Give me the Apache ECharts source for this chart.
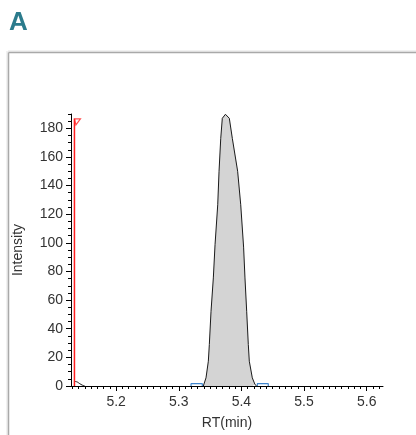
<!DOCTYPE html>
<html>
<head>
<meta charset="utf-8">
<script src="https://cdn.jsdelivr.net/npm/echarts@6/dist/echarts.min.js"></script>
<style>
  html, body { margin: 0; padding: 0; background: #fff; }
  #chart { width: 416px; height: 435px; }
</style>
</head>
<body>
<div id="chart"></div>
<script>
// Extracted ion chromatogram: retention time (min) vs. intensity
const panelLabel = 'A';
const xTitle = 'RT(min)';
const yTitle = 'Intensity';

// Main peak trace
const peakRT = [5.3392, 5.3408, 5.3435, 5.3472, 5.3488, 5.3515, 5.3552, 5.3579, 5.3622, 5.3643, 5.3670, 5.3695, 5.3745, 5.3775, 5.3807, 5.3855, 5.3940, 5.3989, 5.4035, 5.4057, 5.4084, 5.4110, 5.4126, 5.4174, 5.4217, 5.4244];
const peakIntensity = [0, 1, 5.7, 17.3, 29, 52.2, 75.5, 98.7, 126.6, 150, 173, 187, 189.8, 189.4, 187, 173, 150, 126.6, 97, 75.5, 52.2, 29, 17.3, 5.7, 1, 0];

// Trailing edge of the preceding peak
const tailRT = [5.1335, 5.1380, 5.1420, 5.1460, 5.1500];
const tailIntensity = [3.3, 2.8, 1.6, 0.6, 0];

// Integration boundary brackets
const leftBracketRT = [5.3196, 5.3376];
const rightBracketRT = [5.4254, 5.4429];
const bracketHeight = 1.6;

// Retention time marker
const markerRT = 5.1335;
const markerTop = 186.6;

// Axis ranges and tick labels
const xMin = 5.128, xMax = 5.626;
const yMin = 0, yMax = 190;
const xMajorTicks = [5.2, 5.3, 5.4, 5.5, 5.6];
const yMajorTicks = [0, 20, 40, 60, 80, 100, 120, 140, 160, 180];

const xMinorTicks = [];
for (let i = 513; i <= 562; i++) xMinorTicks.push(i / 100);
const yMinorTicks = [];
for (let v = 0; v <= 190; v += 5) yMinorTicks.push(v);

const zip = (a, b) => a.map((x, i) => [x, b[i]]);
const bracket = (r) => [[r[0], 0], [r[0], bracketHeight], [r[1], bracketHeight], [r[1], 0]];

const font = '"Liberation Sans", Arial, sans-serif';
const chart = echarts.init(document.getElementById('chart'), null, { renderer: 'canvas' });

chart.setOption({
  animation: false,
  backgroundColor: '#fff',
  graphic: [
    { type: 'text', left: 9, top: 10, style: { text: panelLabel, font: 'bold 26px ' + font, fill: '#2b7b8c' } },
    { type: 'line', shape: { x1: 8, y1: 51, x2: 416, y2: 51 }, style: { stroke: '#e2e2e2', lineWidth: 1 } },
    { type: 'line', shape: { x1: 7, y1: 51, x2: 7, y2: 435 }, style: { stroke: '#e2e2e2', lineWidth: 1 } },
    { type: 'line', shape: { x1: 8.5, y1: 52.5, x2: 416, y2: 52.5 }, style: { stroke: '#a9a9a9', lineWidth: 1.5 } },
    { type: 'line', shape: { x1: 8.5, y1: 52.5, x2: 8.5, y2: 435 }, style: { stroke: '#a9a9a9', lineWidth: 1.5 } }
  ],
  grid: { left: 71, right: 33, top: 114, bottom: 49, containLabel: false, outerBoundsMode: 'none' },
  xAxis: [
    {
      type: 'value', min: xMin, max: xMax,
      name: xTitle, nameLocation: 'middle', nameGap: 30,
      nameTextStyle: { fontFamily: font, fontSize: 14, color: '#333' },
      axisLine: { show: true, lineStyle: { color: '#000', width: 1 } },
      axisTick: { show: true, length: 5, lineStyle: { color: '#000' }, customValues: xMajorTicks },
      axisLabel: { customValues: xMajorTicks, fontFamily: font, fontSize: 14, color: '#333', margin: 9,
        formatter: v => v.toFixed(1) },
      splitLine: { show: false }
    },
    {
      type: 'value', min: xMin, max: xMax, position: 'bottom',
      axisLine: { show: false },
      axisTick: { show: true, length: 3, lineStyle: { color: '#000' }, customValues: xMinorTicks },
      axisLabel: { show: false },
      splitLine: { show: false }
    }
  ],
  yAxis: [
    {
      type: 'value', min: yMin, max: yMax,
      name: yTitle, nameLocation: 'middle', nameGap: 46, nameRotate: 90,
      nameTextStyle: { fontFamily: font, fontSize: 14, color: '#333' },
      axisLine: { show: true, lineStyle: { color: '#000', width: 1 } },
      axisTick: { show: true, length: 5, lineStyle: { color: '#000' }, customValues: yMajorTicks },
      axisLabel: { customValues: yMajorTicks, fontFamily: font, fontSize: 14, color: '#333', margin: 8 },
      splitLine: { show: false }
    },
    {
      type: 'value', min: yMin, max: yMax, position: 'left',
      axisLine: { show: false },
      axisTick: { show: true, length: 3, lineStyle: { color: '#000' }, customValues: yMinorTicks },
      axisLabel: { show: false },
      splitLine: { show: false }
    }
  ],
  series: [
    {
      type: 'line', data: zip(peakRT, peakIntensity), symbol: 'none', smooth: false,
      lineStyle: { color: '#1a1a1a', width: 1 },
      areaStyle: { color: '#d4d4d4', opacity: 1 }, z: 3
    },
    {
      type: 'line', data: zip(tailRT, tailIntensity), symbol: 'none', smooth: 0.3,
      lineStyle: { color: '#1a1a1a', width: 1 }, z: 3
    },
    {
      type: 'line', data: bracket(leftBracketRT), symbol: 'none',
      lineStyle: { color: '#3f86cf', width: 1.2 }, z: 2
    },
    {
      type: 'line', data: bracket(rightBracketRT), symbol: 'none',
      lineStyle: { color: '#3f86cf', width: 1.2 }, z: 2
    },
    {
      type: 'line', data: [[markerRT, 0], [markerRT, markerTop]], symbol: 'none',
      lineStyle: { color: '#ff2020', width: 1.5 }, z: 4
    },
    {
      type: 'scatter', data: [[markerRT, markerTop]],
      symbol: 'path://M0,0 L6,0 L1.5,6 Z', symbolSize: [6, 6], symbolOffset: [3, 3],
      itemStyle: { color: 'rgba(0,0,0,0)', borderColor: '#ff2020', borderWidth: 1.2 }, z: 4,
      silent: true
    }
  ]
});
</script>
</body>
</html>
